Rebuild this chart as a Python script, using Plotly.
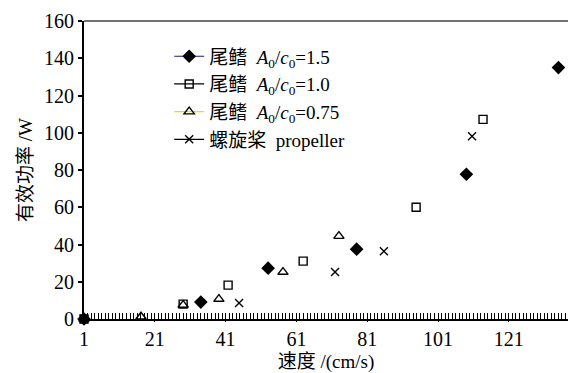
import plotly.graph_objects as go

# data
speed_15 = [1, 34, 53, 78, 109, 135]
power_15 = [0, 9.1, 27.3, 37.5, 77.7, 135]
speed_10 = [1, 29, 41.7, 62.9, 94.8, 113.7]
power_10 = [0, 8.0, 18.2, 31.1, 60, 107.2]
speed_075 = [1, 17.1, 29, 39.1, 57.2, 73.0]
power_075 = [0, 1.2, 7.5, 10.7, 25.2, 44.5]
speed_prop = [1, 44.8, 71.9, 85.7, 110.6, 138.3]
power_prop = [0, 8.6, 25.2, 36.4, 98.1, 145]

names = [
    "尾鳍  <i>A</i><sub>0</sub>/<i>c</i><sub>0</sub>=1.5",
    "尾鳍  <i>A</i><sub>0</sub>/<i>c</i><sub>0</sub>=1.0",
    "尾鳍  <i>A</i><sub>0</sub>/<i>c</i><sub>0</sub>=0.75",
    "螺旋桨  propeller",
]
symbols = ["diamond", "square-open", "triangle-up-open", "x-thin-open"]
sizes = [9, 8, 9, 8]
legend_line_colors = ["#1a1a7a", "#000000", "#e8e000", "#000000"]
series = [(speed_15, power_15), (speed_10, power_10), (speed_075, power_075), (speed_prop, power_prop)]

X_RANGE = [1, 137.7]
FONT = "Liberation Serif, Noto Sans CJK SC, serif"

fig = go.Figure()
for (xs, ys), sym, sz in zip(series, symbols, sizes):
    fig.add_trace(go.Scatter(
        x=xs, y=ys, mode="markers", showlegend=False, cliponaxis=False,
        marker=dict(symbol=sym, size=sz, color="black", line=dict(color="black", width=1.4)),
    ))
for name, sym, sz, lc in zip(names, symbols, sizes, legend_line_colors):
    fig.add_trace(go.Scatter(
        x=[None], y=[None], mode="lines+markers", name=name,
        line=dict(color=lc, width=1.2),
        marker=dict(symbol=sym, size=sz, color="black", line=dict(color="black", width=1.4)),
    ))

fig.update_layout(
    width=568, height=373,
    margin=dict(l=84, r=0, t=21, b=54),
    paper_bgcolor="white", plot_bgcolor="white",
    font=dict(family=FONT, size=20, color="black"),
    showlegend=True,
    legend=dict(x=0.176, y=0.945, xanchor="left", yanchor="top",
                bgcolor="rgba(0,0,0,0)", font=dict(size=19, family=FONT),
                tracegroupgap=0, itemwidth=30),
    shapes=[dict(type="line", xref="paper", yref="paper", x0=0, x1=1, y0=1, y1=1,
                 line=dict(color="#444444", width=1.5))],
)
fig.update_xaxes(
    range=X_RANGE, tick0=1, dtick=20, ticks="outside", ticklen=1, tickwidth=1,
    tickcolor="black",
    showline=True, linecolor="black", linewidth=2,
    minor=dict(dtick=1, ticks="inside", ticklen=6, tickcolor="black", tickwidth=1),
    title=dict(text="速度 /(cm/s)", font=dict(size=19), standoff=6),
    tickfont=dict(size=20),
)
fig.update_yaxes(
    range=[0, 160], dtick=20, ticks="outside", ticklen=4, tickwidth=1.5, tickcolor="black",
    showline=True, linecolor="black", linewidth=2, showgrid=False,
    title=dict(text="有效功率 /W", font=dict(size=19), standoff=6),
    tickfont=dict(size=20),
)
fig.write_html("out.html")
